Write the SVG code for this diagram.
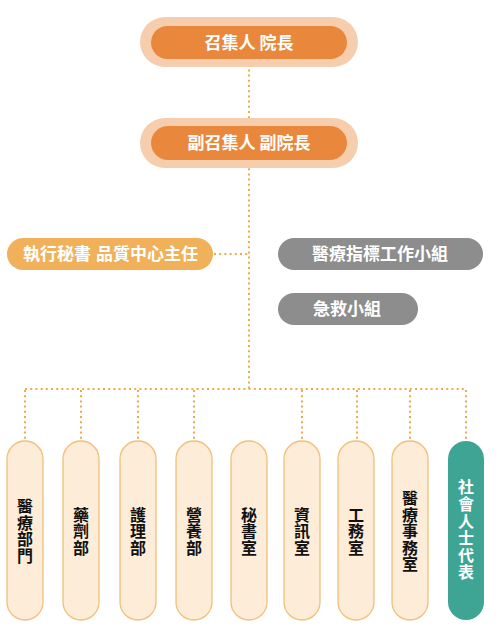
<svg xmlns="http://www.w3.org/2000/svg" width="499" height="633" viewBox="0 0 499 633">
<style>
.t{font-family:"Noto Sans CJK TC","Noto Sans CJK SC",sans-serif;font-weight:bold;font-size:17px;fill:#fff;}
.v{font-family:"Noto Sans CJK TC","Noto Sans CJK SC",sans-serif;font-weight:bold;font-size:16px;fill:#111;text-anchor:middle;dominant-baseline:central;}
.dot{stroke:#F0AA4C;stroke-width:2;stroke-dasharray:2 3.2;fill:none;}
.dept{fill:#FDECD7;stroke:#F2BF7A;stroke-width:1.3;}
</style>
<rect width="499" height="633" fill="#fff"/>
<g id="connectors">
<line class="dot" x1="249" y1="59" x2="249" y2="389"/>
<line class="dot" x1="214" y1="254" x2="249" y2="254"/>
<line class="dot" x1="25" y1="389" x2="467" y2="389"/>
<line class="dot" x1="25" y1="390" x2="25" y2="441"/>
<line class="dot" x1="81" y1="390" x2="81" y2="441"/>
<line class="dot" x1="138" y1="390" x2="138" y2="441"/>
<line class="dot" x1="194" y1="390" x2="194" y2="441"/>
<line class="dot" x1="302" y1="390" x2="302" y2="441"/>
<line class="dot" x1="357" y1="390" x2="357" y2="441"/>
<line class="dot" x1="410" y1="390" x2="410" y2="441"/>
<line class="dot" x1="466" y1="390" x2="466" y2="441"/>
</g>
<g id="president">
<rect x="140" y="17" width="218" height="50" rx="25" fill="#F6CEAE"/>
<rect x="151" y="26" width="196" height="33" rx="16.5" fill="#E9883D"/>
<text class="t" x="249" y="48.5" text-anchor="middle">召集人 院長</text>
</g>
<g id="vice">
<rect x="140" y="118" width="218" height="50" rx="25" fill="#F6CEAE"/>
<rect x="151" y="126" width="196" height="34" rx="17" fill="#E9883D"/>
<text class="t" x="249" y="149" text-anchor="middle">副召集人 副院長</text>
</g>
<g id="exec">
<rect x="7" y="238" width="206" height="32" rx="16" fill="#F0B15A"/>
<text class="t" y="260"><tspan x="23">執行秘書</tspan><tspan x="96">品質中心主任</tspan></text>
</g>
<g id="indicator">
<rect x="278" y="238" width="205" height="32" rx="16" fill="#8D8D8D"/>
<text class="t" x="380" y="260" text-anchor="middle">醫療指標工作小組</text>
</g>
<g id="emergency">
<rect x="278" y="293" width="140" height="32" rx="16" fill="#8D8D8D"/>
<text class="t" x="347" y="315" text-anchor="middle">急救小組</text>
</g>
<g id="d1"><rect class="dept" x="7" y="441" width="36" height="179" rx="18"/>
<text class="v"><tspan x="25" y="505.25">醫</tspan><tspan x="25" y="521.75">療</tspan><tspan x="25" y="538.25">部</tspan><tspan x="25" y="554.75">門</tspan></text></g>
<g id="d2"><rect class="dept" x="63" y="441" width="36" height="179" rx="18"/>
<text class="v"><tspan x="81" y="513.5">藥</tspan><tspan x="81" y="530">劑</tspan><tspan x="81" y="546.5">部</tspan></text></g>
<g id="d3"><rect class="dept" x="120" y="441" width="36" height="179" rx="18"/>
<text class="v"><tspan x="138" y="513.5">護</tspan><tspan x="138" y="530">理</tspan><tspan x="138" y="546.5">部</tspan></text></g>
<g id="d4"><rect class="dept" x="176" y="441" width="36" height="179" rx="18"/>
<text class="v"><tspan x="194" y="513.5">營</tspan><tspan x="194" y="530">養</tspan><tspan x="194" y="546.5">部</tspan></text></g>
<g id="d5"><rect class="dept" x="231" y="441" width="36" height="179" rx="18"/>
<text class="v"><tspan x="249" y="513.5">秘</tspan><tspan x="249" y="530">書</tspan><tspan x="249" y="546.5">室</tspan></text></g>
<g id="d6"><rect class="dept" x="284" y="441" width="36" height="179" rx="18"/>
<text class="v"><tspan x="302" y="513.5">資</tspan><tspan x="302" y="530">訊</tspan><tspan x="302" y="546.5">室</tspan></text></g>
<g id="d7"><rect class="dept" x="338" y="441" width="36" height="179" rx="18"/>
<text class="v"><tspan x="356" y="513.5">工</tspan><tspan x="356" y="530">務</tspan><tspan x="356" y="546.5">室</tspan></text></g>
<g id="d8"><rect class="dept" x="392" y="441" width="36" height="179" rx="18"/>
<text class="v"><tspan x="410" y="497">醫</tspan><tspan x="410" y="513.5">療</tspan><tspan x="410" y="530">事</tspan><tspan x="410" y="546.5">務</tspan><tspan x="410" y="563">室</tspan></text></g>
<g id="d9"><rect x="448" y="441" width="36" height="179" rx="18" fill="#3EA595"/>
<text class="v" style="fill:#fff"><tspan x="466" y="486">社</tspan><tspan x="466" y="503">會</tspan><tspan x="466" y="520">人</tspan><tspan x="466" y="537">士</tspan><tspan x="466" y="554">代</tspan><tspan x="466" y="571">表</tspan></text></g>
</svg>
